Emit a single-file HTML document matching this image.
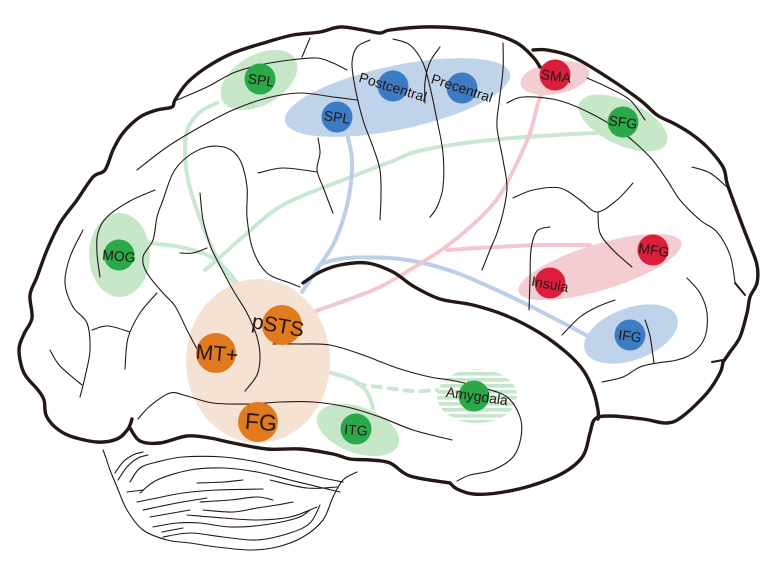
<!DOCTYPE html>
<html><head><meta charset="utf-8"><style>
html,body{margin:0;padding:0;background:#fff;}
svg{display:block;}
.k{fill:none;stroke:#231815;stroke-linecap:round;stroke-linejoin:round;}
.t{stroke-width:3.4;}
.n{stroke-width:1.1;}
.c{fill:none;stroke-width:4;stroke-linecap:round;stroke-linejoin:round;}
text{font-family:"Liberation Sans",Arial,sans-serif;fill:#231815;text-anchor:middle;dominant-baseline:central;}
</style></head><body>
<svg width="780" height="576" viewBox="0 0 780 576">
<defs>
<pattern id="st" width="8" height="6" patternUnits="userSpaceOnUse"><rect width="8" height="3.6" fill="#c5e6cb"/></pattern>
</defs>
<rect width="780" height="576" fill="#fff"/>

<!-- connectors -->
<polyline class="s c" stroke="#c9e8d4" points="217,103 200,112 188,128 185,150 188,180 198,213 213,250 228,275 240,290"/>
<polyline class="s c" stroke="#c9e8d4" points="150,243 180,247 207,255 225,268 240,287"/>
<polyline class="s c" stroke="#c9e8d4" points="597,133 557,135 490,140 423,150 390,162 343,180 283,205 245,235 217,260 205,270"/>
<polyline class="s c" stroke="#c9e8d4" points="328,372 353,380 367,392 373,408"/>
<polyline class="s c" stroke="#c9e8d4" stroke-dasharray="8 8" points="357,384 380,387 413,391 437,390"/>
<polyline class="s c" stroke="#bccfe8" points="348,138 352,160 350,190 343,220 333,245 320,265 310,280 302,292"/>
<polyline class="s c" stroke="#bccfe8" points="323,263 347,258 390,258 423,263 457,273 490,287 530,306 590,337"/>
<polyline class="s c" stroke="#f2c8ce" points="316,311 347,300 380,287 413,268 447,246 480,218 500,195 515,167 530,133 537,107 542,93"/>
<polyline class="s c" stroke="#f2c8ce" points="447,250 497,247 540,245 590,245"/>

<!-- region ellipses -->
<ellipse cx="258" cy="361" rx="72" ry="82" fill="#f6e2d3"/>
<ellipse cx="259" cy="80" rx="42" ry="25" fill="#c7e8c8" transform="rotate(-30 259 80)"/>
<ellipse cx="119.5" cy="255" rx="30.5" ry="42" fill="#c7e8c8"/>
<ellipse cx="623" cy="123" rx="48" ry="22" fill="#c7e8c8" transform="rotate(25 623 123)"/>
<ellipse cx="358" cy="430" rx="43" ry="23" fill="#c7e8c8" transform="rotate(20 358 430)"/>
<ellipse cx="477" cy="396" rx="40" ry="27" fill="url(#st)"/>
<ellipse cx="397.5" cy="97.5" rx="115" ry="32" fill="#bfd3ea" transform="rotate(-12 397.5 97.5)"/>
<ellipse cx="631" cy="334" rx="49" ry="26" fill="#bfd3ea" transform="rotate(-20 631 334)"/>
<ellipse cx="555" cy="78" rx="35" ry="16" fill="#f3cdd1" transform="rotate(-10 555 78)"/>
<ellipse cx="600" cy="267" rx="85" ry="23" fill="#f3cdd1" transform="rotate(-17 600 267)"/>

<!-- outline thick -->
<polyline class="s k t" points="540,67 533,57 517,43 490,33 457,28 423,27 390,30 380,33 363,30 340,27 320,32 293,35 267,42 233,53 207,67 187,83 175,100 172,107 157,110 140,117 123,133 113,150 105,170 93,177 77,200 60,223 47,250 37,277 30,295 32,318 24,334 19,350 24,373 38,390 44,400 46,415 55,427 70,436 97,442 117,439 128,429 132,419"/>
<polyline class="s k t" points="130,428 140,441 160,443 187,436 210,438 233,443 267,449 300,449 333,454 350,459 370,460 390,463 410,476 450,483"/>
<polyline class="s k t" points="450,483 457,489 473,494 497,493 530,486 563,473 583,456 590,433 595,419 610,416 643,419 667,423 683,416 707,393 720,373 723,362"/>
<polyline class="s k t" points="533,50 547,50 573,57 607,77 640,100 657,115 673,123 690,133 707,147 723,167 727,183 733,200 743,227 750,245 757,265 757,283 750,297 747,313 740,337 730,352 723,362"/>
<polyline class="s k" stroke-width="2" points="712,362 723,360"/>
<polyline class="s k" stroke-width="2" points="735,283 745,295"/>
<polyline class="s k t" points="303,283 320,272 340,265 367,263 393,272 413,286 440,299 473,305 507,316 540,333 567,353 583,370 593,390 598,410 598,419"/>

<!-- thin sulci -->
<polyline class="s k n" points="177,100 207,87 233,73 260,65 290,60 317,58 333,63 347,70"/>
<polyline class="s k n" points="302,57 310,38"/>
<polyline class="s k n" points="137,170 167,147 200,127 233,110 267,98 300,93 333,97 357,100"/>
<polyline class="s k n" points="370,40 357,47 352,63 355,87 363,120 373,147 380,170 381,195 380,220"/>
<polyline class="s k n" points="318,138 320,153 317,170 323,187 333,213"/>
<polyline class="s k n" points="258,173 283,168 317,172"/>
<polyline class="s k n" points="393,39 410,45 423,63 430,87 437,120 443,153 443,187 437,207 430,217"/>
<polyline class="s k n" points="440,47 430,62 425,82 425,103"/>
<polyline class="s k n" points="503,43 503,70 499,103 497,127 503,160 507,187 503,213 497,233 490,250 482,270"/>
<polyline class="s k n" points="587,78 607,87 630,100 645,120"/>
<polyline class="s k n" points="507,103 523,97 557,100 590,113 623,133 650,157 667,180 680,200 700,220 717,232 730,255 735,282"/>
<polyline class="s k n" points="692,167 710,173 727,187"/>
<polyline class="s k n" points="513,198 533,190 560,188 580,200 597,212 617,200 633,183"/>
<polyline class="s k n" points="598,212 600,233 613,250 632,267"/>
<polyline class="s k n" points="550,227 537,231 531,250 530,280 529,310"/>
<polyline class="s k n" points="687,278 700,293 707,313 705,337 693,353 677,360 657,363 640,367 623,377 602,382"/>
<polyline class="s k n" points="562,335 580,317 597,307 615,300"/>
<polyline class="s k n" points="645,320 650,336 654,363"/>
<polyline class="s k n" points="300,287 290,283 267,273 253,250 247,217 247,187 240,160 227,148 207,147 187,157 173,173 163,200 157,217 153,240 143,257 147,273 163,293 175,306 187,330 197,349"/>
<polyline class="s k n" points="200,193 203,220 210,245 217,260 233,290 247,313 257,337 260,357 257,375 245,391"/>
<polyline class="s k n" points="155,190 130,201 107,217 98,233 97,253 100,277"/>
<polyline class="s k n" points="180,253 193,253 207,248"/>
<polyline class="s k n" points="83,230 70,257 65,283 73,307 87,323 90,350 85,377 80,397"/>
<polyline class="s k n" points="50,350 60,366 82,385"/>
<polyline class="s k n" points="92,330 108,326 130,332"/>
<polyline class="s k n" points="157,293 140,313 128,338 125,369"/>
<polyline class="s k n" points="138,419 150,406 170,393 187,396 213,403 250,404 280,402 313,402 347,407 380,417 413,430 452,440"/>
<polyline class="s k n" points="273,344 300,344 330,345 363,355 397,368 430,377 450,380 480,387 507,397 520,417 521,437 513,457 493,470 470,475 457,481"/>

<!-- cerebellum -->
<polyline class="s k n" points="103,450 106,458 110,470 117,487 127,510 143,530 167,540 190,543 217,547 250,550 277,547 303,537 323,520 333,497 343,480 357,472"/>
<polyline class="s k n" points="115,473 123,462 133,455 143,452"/>
<polyline class="s k n" points="118,480 127,467 138,458 148,455"/>
<polyline class="s k n" points="130,482 140,468 157,462 183,457 223,457 257,462 290,470 323,478 343,482"/>
<polyline class="s k n" points="140,493 157,480 190,470 223,468 257,472 290,480 323,488 340,492"/>
<polyline class="s k n" points="127,492 143,490"/>
<polyline class="s k n" points="197,483 223,482 243,480"/>
<polyline class="s k n" points="137,502 157,498 183,493 217,490 263,489"/>
<polyline class="s k n" points="143,510 177,503 207,498"/>
<polyline class="s k n" points="200,502 230,500 257,497 273,500"/>
<polyline class="s k n" points="203,510 233,512 257,508 277,505 293,502"/>
<polyline class="s k n" points="150,517 190,510"/>
<polyline class="s k n" points="187,515 223,518 257,520 290,517 317,507"/>
<polyline class="s k n" points="153,527 177,523 200,523 230,527 263,525 297,518 310,510"/>
<polyline class="s k n" points="162,532 183,528"/>
<polyline class="s k n" points="163,537 190,533 223,537 257,540 290,533 310,523 320,505"/>
<polyline class="s k n" points="270,480 307,488 337,487"/>

<!-- nodes -->
<circle cx="282" cy="325" r="20" fill="#e07a1e"/>
<circle cx="216" cy="353" r="20" fill="#e07a1e"/>
<circle cx="258" cy="422" r="20" fill="#e07a1e"/>
<circle cx="260" cy="79" r="15.5" fill="#2ba84a"/>
<circle cx="119" cy="255" r="15.5" fill="#2ba84a"/>
<circle cx="623" cy="122" r="15.5" fill="#2ba84a"/>
<circle cx="356" cy="429" r="15.5" fill="#2ba84a"/>
<circle cx="474" cy="396" r="15.5" fill="#2ba84a"/>
<circle cx="337" cy="117" r="15.5" fill="#3b7cc4"/>
<circle cx="393" cy="86" r="15.5" fill="#3b7cc4"/>
<circle cx="462" cy="88" r="15.5" fill="#3b7cc4"/>
<circle cx="630" cy="335" r="15.5" fill="#3b7cc4"/>
<circle cx="555" cy="75" r="15.5" fill="#dc1e3c"/>
<circle cx="653" cy="250" r="15.5" fill="#dc1e3c"/>
<circle cx="550" cy="283" r="15.5" fill="#dc1e3c"/>

<!-- labels -->
<text x="261" y="80" font-size="14" transform="rotate(8 261 80)">SPL</text>
<text x="337" y="117" font-size="14" transform="rotate(8 337 117)">SPL</text>
<text x="393" y="87" font-size="14" transform="rotate(17 393 87)">Postcentral</text>
<text x="462" y="88" font-size="14" transform="rotate(18 462 88)">Precentral</text>
<text x="556" y="76" font-size="14" transform="rotate(8 556 76)">SMA</text>
<text x="623" y="122" font-size="14" transform="rotate(8 623 122)">SFG</text>
<text x="119" y="256" font-size="14" transform="rotate(5 119 256)">MOG</text>
<text x="654" y="250" font-size="14" transform="rotate(8 654 250)">MFG</text>
<text x="550" y="284" font-size="14" transform="rotate(10 550 284)">Insula</text>
<text x="630" y="336" font-size="14" transform="rotate(8 630 336)">IFG</text>
<text x="477" y="396" font-size="14" transform="rotate(8 477 396)">Amygdala</text>
<text x="356" y="430" font-size="14" transform="rotate(5 356 430)">ITG</text>
<text x="278" y="326" font-size="21" transform="rotate(10 278 326)">pSTS</text>
<text x="217" y="354" font-size="21" transform="rotate(5 217 354)">MT+</text>
<text x="261" y="422" font-size="23" transform="rotate(5 261 422)">FG</text>
</svg>
<script>
document.querySelectorAll('polyline.s').forEach(function(pl){
  var nums=pl.getAttribute('points').trim().split(/[\s,]+/).map(Number);
  var p=[];for(var i=0;i<nums.length;i+=2)p.push([nums[i],nums[i+1]]);
  if(p.length<3)return;
  var d='M'+p[0][0]+','+p[0][1];
  for(var j=0;j<p.length-1;j++){
    var p0=p[j-1]||p[j],p1=p[j],p2=p[j+1],p3=p[j+2]||p2;
    var c1x=p1[0]+(p2[0]-p0[0])/6,c1y=p1[1]+(p2[1]-p0[1])/6;
    var c2x=p2[0]-(p3[0]-p1[0])/6,c2y=p2[1]-(p3[1]-p1[1])/6;
    d+='C'+c1x.toFixed(2)+','+c1y.toFixed(2)+' '+c2x.toFixed(2)+','+c2y.toFixed(2)+' '+p2[0]+','+p2[1];
  }
  var path=document.createElementNS(pl.namespaceURI,'path');
  for(var k=0;k<pl.attributes.length;k++){var a=pl.attributes[k];if(a.name!=='points')path.setAttribute(a.name,a.value);}
  path.setAttribute('d',d);
  pl.parentNode.replaceChild(path,pl);
});
</script>
</body></html>
